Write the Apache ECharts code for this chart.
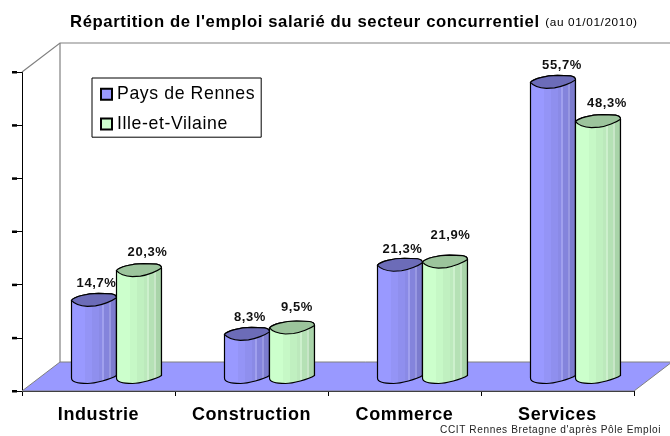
<!DOCTYPE html>
<html><head><meta charset="utf-8">
<style>html,body{margin:0;padding:0;background:#fff}#c{width:670px;height:436px}</style>
<script src="https://cdn.jsdelivr.net/npm/echarts@6/dist/echarts.min.js"></script>
</head><body><div id="c"></div>
<script>
const categories = ['Industrie','Construction','Commerce','Services'];
const paysDeRennes = [14.7,8.3,21.3,55.7];
const illeEtVilaine = [20.3,9.5,21.9,48.3];
const valueTicks = [0,10,20,30,40,50,60];

// The original text is slightly tracked: keep a small letter spacing on every canvas text.
const TRACKING = '0.6px';
(function(){
  const proto = CanvasRenderingContext2D.prototype;
  const d = Object.getOwnPropertyDescriptor(proto,'font');
  Object.defineProperty(proto,'font',{configurable:true,get(){return d.get.call(this);},
    set(v){d.set.call(this,v); this.letterSpacing = TRACKING;}});
})();

// 3D look
const DEPTH_X = 38, DEPTH_Y = 29, BAR_W = 45;
const nudgePays = [[2.5,1],[3,1],[2.5,2.5],[9,1]];
const nudgeIlle = [[8.5,0],[5,-3],[5.5,-9],[9,0]];
const FONT = '"Liberation Sans", Arial, sans-serif';
function bands(stops){
  const out=[]; stops.forEach((s,i)=>{ const end=i<stops.length-1?stops[i+1][0]:1;
    out.push({offset:s[0],color:s[1]},{offset:end,color:s[1]}); });
  return out;
}
const blueBody = bands([[0,'#9999ff'],[.3,'#9494f6'],[.45,'#8f8fee'],[.6,'#8a8ae6'],[.68,'#a0a0ee'],[.72,'#8484dc'],[.82,'#9898e2'],[.86,'#7c7cce'],[.95,'#6e6eba']]);
const greenBody = bands([[0,'#ccffcc'],[.3,'#c6f8c6'],[.45,'#c0f0c0'],[.6,'#bce9bc'],[.68,'#cdf0cd'],[.72,'#b5e1b5'],[.82,'#c8e6c8'],[.86,'#a9d4a9'],[.95,'#9cc49c']]);

function cylinder(side, body, topColor, nudge){
  return function(params, api){
    const p = api.coord([api.value(0), api.value(1)]);
    const cx0 = p[0] + DEPTH_X/2 - 1;
    const base = api.coord([api.value(0),0])[1] - DEPTH_Y/2;
    const top = p[1] - DEPTH_Y/2 + 1.5;
    const x0 = side<0 ? cx0-BAR_W : cx0;
    const x1 = x0+BAR_W;
    const f = v=>+v.toFixed(2);
    const topD = (yy)=>`M${f(x0)} ${f(yy+0.5)} C${f(x0+3)} ${f(yy-3)} ${f(x0+15)} ${f(yy-6.5)} ${f(x0+27)} ${f(yy-6.5)} L${f(x1-5)} ${f(yy-6)} C${f(x1-2)} ${f(yy-5.5)} ${f(x1)} ${f(yy-4)} ${f(x1)} ${f(yy-2)}`;
    const bodyD = topD(top)+` L${f(x1)} ${f(base-1)} C${f(x1-6)} ${f(base+3)} ${f(x1-22)} ${f(base+7)} ${f(x0+16)} ${f(base+7)} C${f(x0+8)} ${f(base+7)} ${f(x0)} ${f(base+6)} ${f(x0)} ${f(base+1.5)} Z`;
    const capD = topD(top)+` C${f(x1-4)} ${f(top+1)} ${f(x1-14)} ${f(top+5)} ${f(x0+24)} ${f(top+6)} L${f(x0+16)} ${f(top+6.5)} C${f(x0+8)} ${f(top+6)} ${f(x0+2)} ${f(top+3)} ${f(x0)} ${f(top+0.5)} Z`;
    const n = nudge[params.dataIndex];
    return {type:'group',children:[
      {type:'path',shape:{pathData:bodyD},style:{fill:{type:'linear',x:0,y:0,x2:1,y2:0,colorStops:body},stroke:'#000',lineWidth:1.2}},
      {type:'path',shape:{pathData:capD},style:{fill:topColor,stroke:'#000',lineWidth:1.2}},
      {type:'text',z2:20,style:{x:(x0+x1)/2+n[0],y:top-17.5+n[1],text:api.value(1).toFixed(1).replace('.',',')+'%',
        align:'center',verticalAlign:'middle',fontFamily:FONT,fontWeight:'bold',fontSize:13,fill:'#111'}}
    ]};
  };
}
function room(params, api){
  const l = api.coord(['Industrie',0]), band = api.size([1,0])[0];
  const x0 = l[0]-band/2, y0 = l[1];
  const x1 = x0+band*categories.length;
  const yTop = api.coord(['Industrie',60])[1];
  const ticks = valueTicks.map(v=>{
    const y = api.coord(['Industrie',v])[1];
    return {type:'rect',shape:{x:x0-10,y:y-1,width:5,height:2.5},style:{fill:'#000'}};
  });
  const grey = {stroke:'#808080',lineWidth:1.2,fill:'none'};
  return {type:'group',children:[
    {type:'polygon',shape:{points:[[x0,y0],[x0+DEPTH_X,y0-DEPTH_Y],[x1+DEPTH_X,y0-DEPTH_Y],[x1,y0]]},style:{fill:'#9999ff',stroke:'#808080',lineWidth:1}},
    {type:'polyline',shape:{points:[[x0,yTop],[x0+DEPTH_X,yTop-DEPTH_Y],[x1+DEPTH_X,yTop-DEPTH_Y]]},style:grey},
    {type:'line',shape:{x1:x0+DEPTH_X,y1:yTop-DEPTH_Y,x2:x0+DEPTH_X,y2:y0-DEPTH_Y},style:grey},
    ...ticks
  ]};
}
const chart = echarts.init(document.getElementById('c'),null,{renderer:'canvas'});
chart.setOption({
  animation:false,
  backgroundColor:'#fff',
  title:[
    {text:"{a|Répartition de l'emploi salarié du secteur concurrentiel} {b|(au 01/01/2010)}",left:70,top:13,padding:0,
     textStyle:{rich:{a:{fontFamily:FONT,fontWeight:'bold',fontSize:16.7,color:'#000'},b:{fontFamily:FONT,fontWeight:'normal',fontSize:11.8,color:'#000'}}}},
    {text:"CCIT Rennes Bretagne d'après Pôle Emploi",left:440,top:425,padding:0,textStyle:{fontFamily:FONT,fontWeight:'normal',fontSize:10.1,color:'#222'}}
  ],
  legend:{orient:'vertical',left:92,top:78,itemWidth:11,itemHeight:11,itemGap:11,padding:[7,6,4,8],
    backgroundColor:'#fff',borderColor:'#000',borderWidth:1,borderRadius:0,
    textStyle:{fontFamily:FONT,fontSize:17.7,color:'#000'},
    data:[{name:'Pays de Rennes',icon:'rect'},{name:'Ille-et-Vilaine',icon:'rect'}]},
  grid:{left:22,right:36,top:72,bottom:45},
  xAxis:{type:'category',data:categories,
    axisLine:{lineStyle:{color:'#000',width:1}},
    axisTick:{show:true,length:5,alignWithLabel:false,lineStyle:{color:'#000'}},
    axisLabel:{interval:0,fontFamily:FONT,fontWeight:'bold',fontSize:18,color:'#000',margin:15}},
  yAxis:{type:'value',min:0,max:60,interval:10,
    axisLine:{show:true,lineStyle:{color:'#000',width:1}},
    axisTick:{show:true,length:10,lineStyle:{color:'#000'}},
    axisLabel:{show:false},splitLine:{show:false}},
  series:[
    {name:'room',type:'custom',renderItem:room,data:[[0,0]],silent:true,z:1,clip:false},
    {name:'Pays de Rennes',type:'custom',renderItem:cylinder(-1,blueBody,'#6c6cb8',nudgePays),z:2,clip:false,
     itemStyle:{color:'#9999ff',borderColor:'#000',borderWidth:1},
     data:paysDeRennes.map((v,i)=>[i,v])},
    {name:'Ille-et-Vilaine',type:'custom',renderItem:cylinder(1,greenBody,'#9cc49c',nudgeIlle),z:3,clip:false,
     itemStyle:{color:'#ccffcc',borderColor:'#000',borderWidth:1},
     data:illeEtVilaine.map((v,i)=>[i,v])}
  ]
});
</script></body></html>
